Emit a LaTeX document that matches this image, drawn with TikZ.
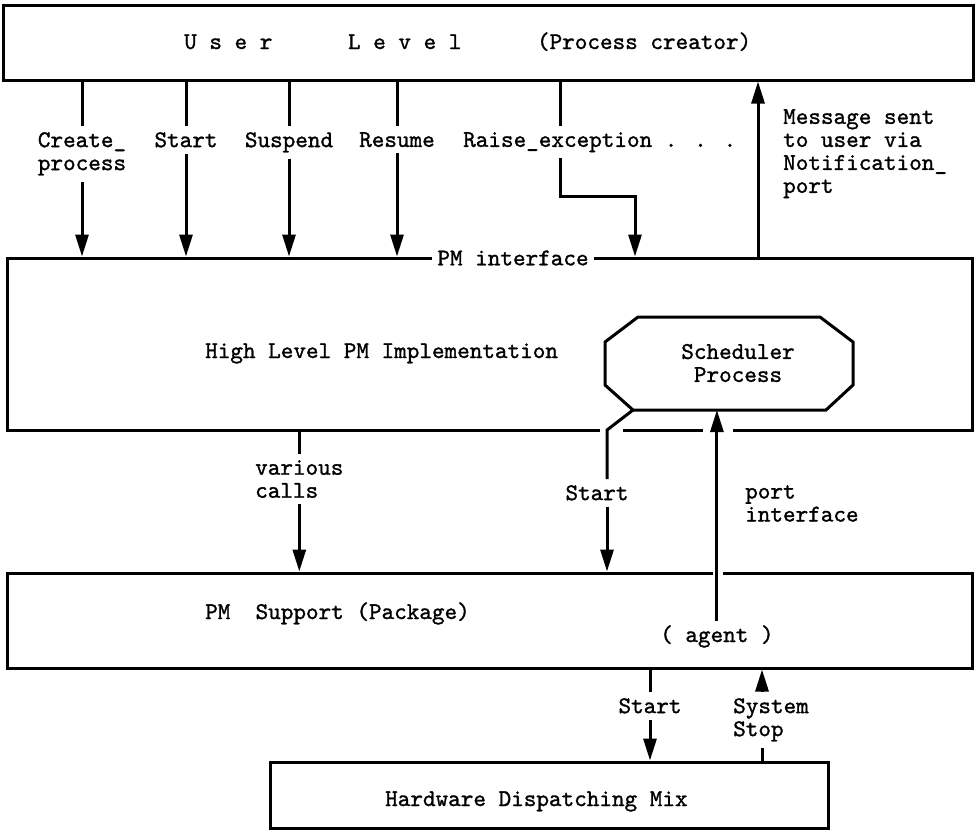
\documentclass[tikz,border=0pt]{standalone}
\usepackage{fontspec}
\usetikzlibrary{arrows.meta}
\newfontfamily\lbtt{lmmono10-regular.otf}[FakeBold=1.2]
\newcommand{\lbfont}{\lbtt\fontsize{24}{23}\selectfont}
\tikzset{
  box/.style={draw, line width=3pt, inner sep=0pt},
  wire/.style={line width=3pt},
  flow/.style={line width=3pt, -{Triangle[length=22pt,width=13pt]}},
  lbl/.style={font=\lbfont, align=left, inner sep=6pt},
  txt/.style={font=\lbfont, inner sep=0pt}
}

\begin{document}
\begin{tikzpicture}[x=1pt, y=-1pt]
    \useasboundingbox (0,0) rectangle (976,833);

    % the four layers
    \node[box, minimum width=970pt, minimum height=75pt] (user) at (488,42.5) {};
    \node[box, minimum width=965pt, minimum height=172pt] (hl) at (489.5,344) {};
    \node[box, minimum width=965pt, minimum height=95pt] (pms) at (489.5,620.5) {};
    \node[box, minimum width=558pt, minimum height=66pt] (hw) at (549,795) {};

    \node[txt, anchor=base west] (utitle) at (184,49) {U s e r~~~~~~L e v e l~~~~~~(Process creator)};
    \node[txt, anchor=base west] (hltitle) at (205,358) {High Level PM Implementation};
    \node[txt, anchor=base west] (pmstitle) at (205,619) {PM~~Support (Package)};
    \node[txt, anchor=base west] (hwtitle) at (385,806) {Hardware Dispatching Mix};
    \node[txt, anchor=base west, inner sep=4pt] (agent) at (656,642) {( agent )};

    % scheduler process
    \draw[wire] (605,342) -- (638,317) -- (820,317) -- (853,342) -- (853,385) -- (826,410) -- (633,410) -- (605,385) -- cycle;
    \coordinate (sc-bl) at (633,410);
    \node[txt, align=center] (sched) at (738,363) {Scheduler\\Process};

    \node[txt, fill=white, inner xsep=5pt, inner ysep=3pt] (pmi) at (513,258) {PM interface};
    \draw[white, line width=5pt] (600,430) -- (623,430) (703,430) -- (733,430) (713,573) -- (723,573);

    % calls from the user level
    \foreach \n/\x/\t in {cp/82/{Create\_\\process}, st/186/Start, su/289/Suspend, rs/397/Resume} {
        \node[lbl, anchor=north] (\n) at (\x,126) {\t};
        \draw[wire] (\n.north |- user.south) -- (\n.north);
        \draw[flow] (\n.south) -- (\n.south |- hl.north);
    }

    \node[lbl, anchor=north west] (rx) at (457,126) {Raise\_exception . . .};
    \coordinate (rx-a) at (560,196);
    \coordinate (rx-b) at (635,196);
    \draw[wire] (rx-a |- user.south) -- (rx-a |- rx.north);
    \draw[flow] (rx-a |- rx.south) -- (rx-a) -- (rx-b) -- (rx-b |- hl.north);

    \node[lbl, anchor=north west] (msg) at (777,103) {Message sent\\to user via\\Notification\_\\port};
    \coordinate (ntf) at (758,258);
    \draw[flow] (ntf) -- (ntf |- user.south);

    % high level down to support
    \node[lbl, anchor=north west] (vc) at (249,454) {various\\calls};
    \draw[wire] (vc.north |- hl.south) -- (vc.north);
    \draw[flow] (vc.south) -- (vc.south |- pms.north);

    \node[lbl, anchor=north] (st2) at (597,479) {Start};
    \coordinate (kink) at (607,430);
    \draw[wire] (sc-bl) -- (kink) -- (kink |- st2.north);
    \draw[flow] (kink |- st2.south) -- (kink |- pms.north);

    \node[lbl, anchor=north west] (pi) at (739,479) {port\\interface};
    \draw[flow] (agent.north) -- (agent.north |- sc-bl);

    % support and hardware
    \node[lbl, anchor=north] (st3) at (650,692) {Start};
    \draw[wire] (st3.north |- pms.south) -- (st3.north);
    \draw[flow] (st3.south) -- (st3.south |- hw.north);

    \node[lbl, anchor=north west] (ss) at (727,692) {System\\Stop};
    \coordinate (ss-x) at (762,700);
    \draw[wire] (ss-x |- hw.north) -- (ss-x |- ss.south);
    \draw[flow] (ss-x |- ss.north) -- (ss-x |- pms.south);

\end{tikzpicture}
\end{document}
